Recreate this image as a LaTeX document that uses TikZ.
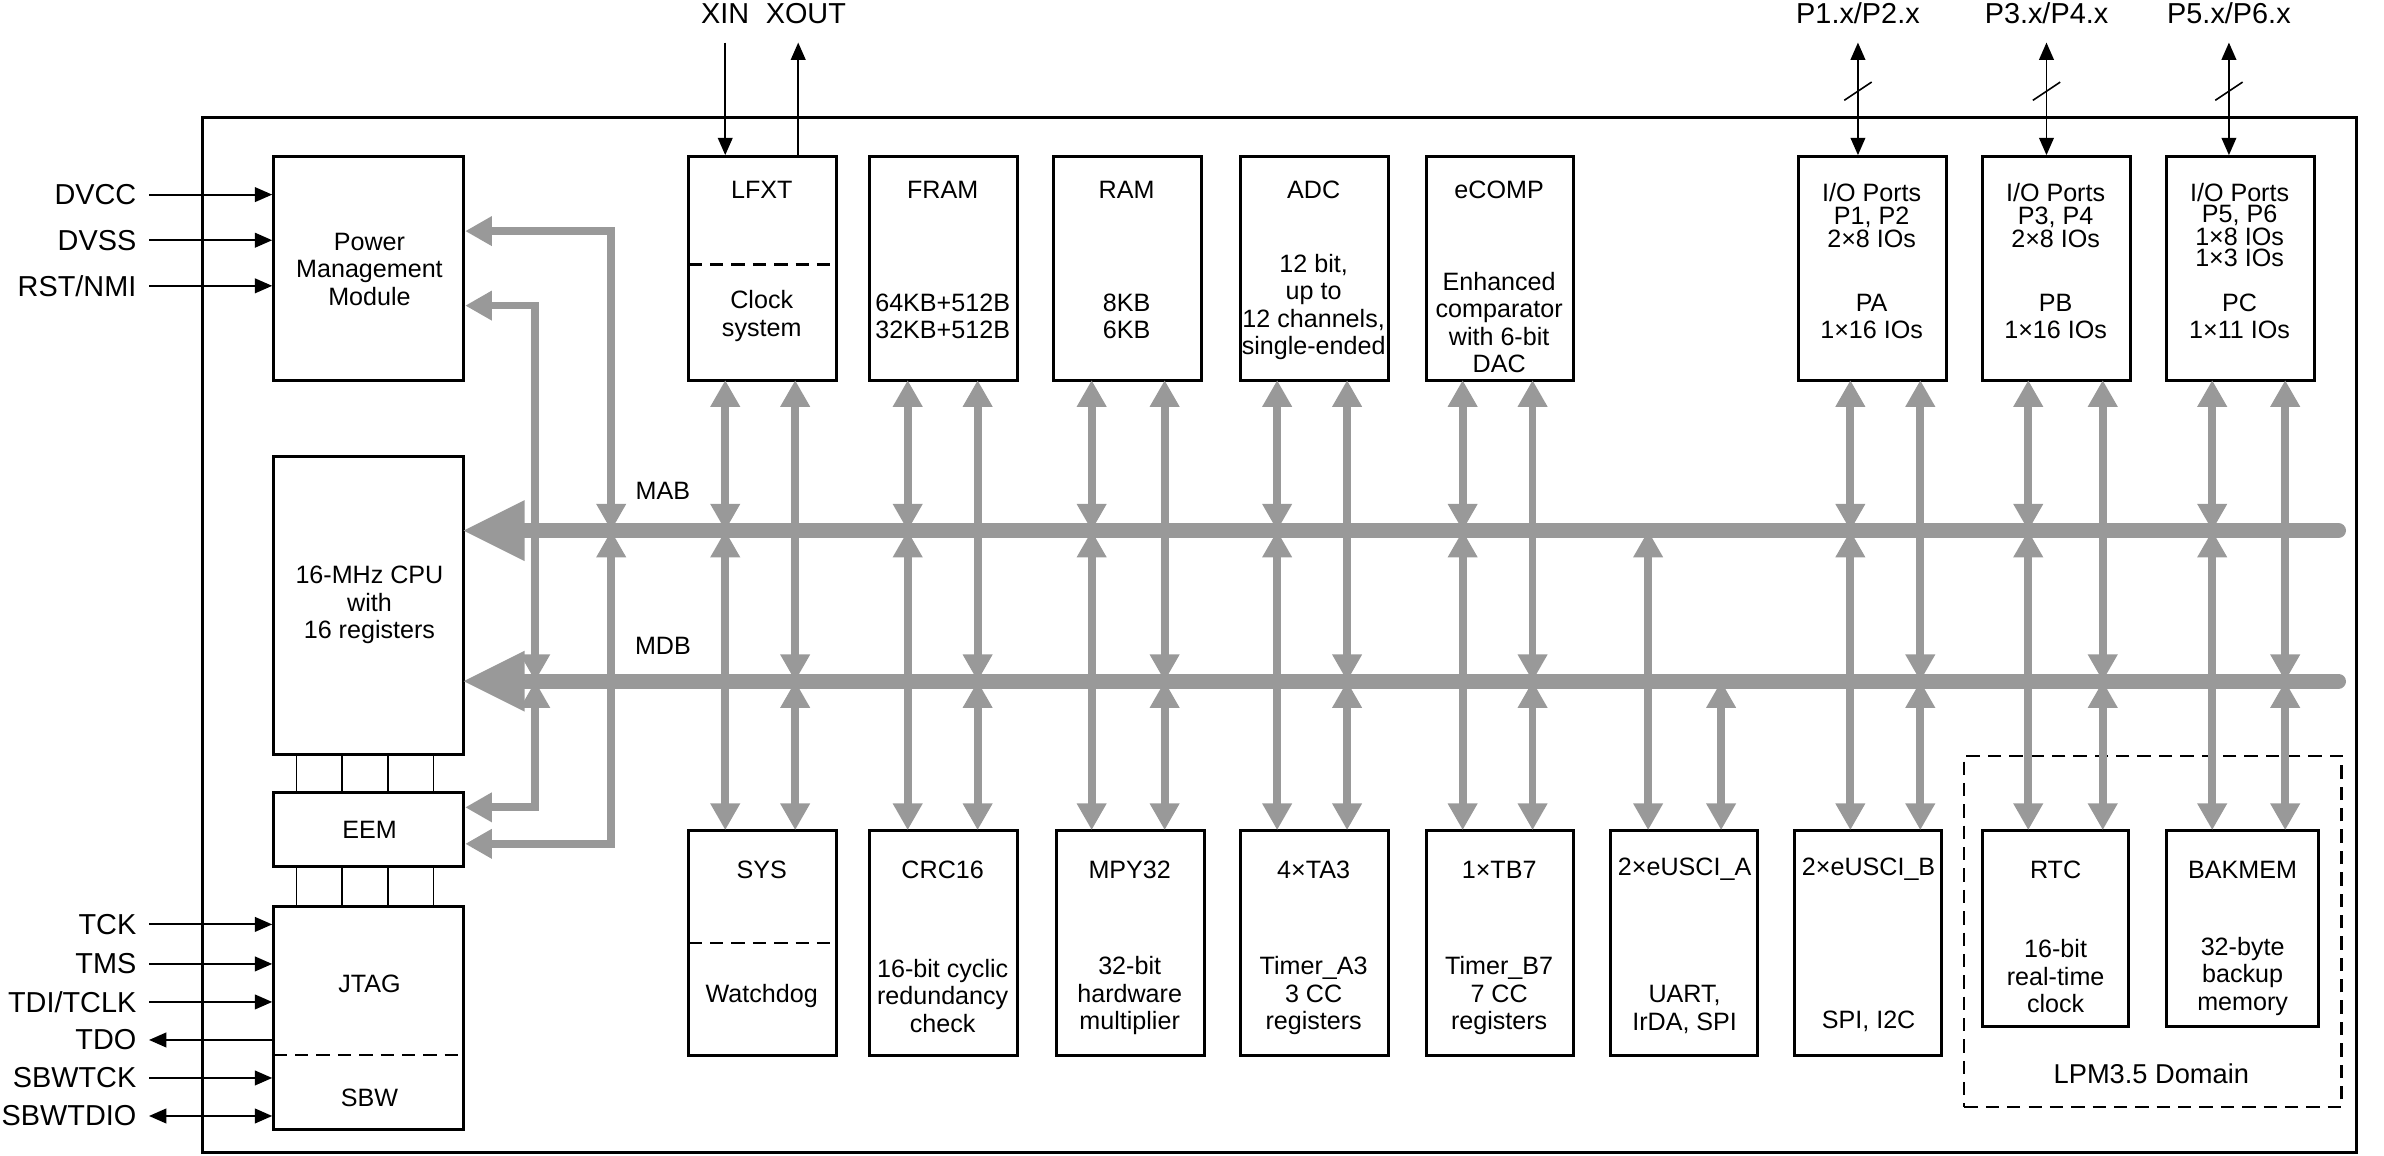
\documentclass[tikz,border=0pt]{standalone}
\usepackage{fontspec}
\setmainfont{Liberation Sans}
\usetikzlibrary{arrows.meta,fit}
\begin{document}
\begin{tikzpicture}[x=0.02cm,y=-0.02cm,
  box/.style={draw,line width=1.1pt,inner sep=0pt},
  txt/.style={font=\fontsize{9.4}{10.3}\selectfont,align=center,inner sep=0pt},
  ext/.style={font=\fontsize{10.8}{12}\selectfont,inner sep=0pt},
  pin/.style={line width=0.7pt,-{Triangle[width=5.5pt,length=6.5pt]}},
  pinb/.style={line width=0.7pt,{Triangle[width=5.5pt,length=6.5pt]}-{Triangle[width=5.5pt,length=6.5pt]}},
  va/.style={draw=black!40,line width=2.9pt,{Triangle[width=10.5pt,length=10pt]}-{Triangle[width=10.5pt,length=10pt]}},
  dsh/.style={line width=0.8pt,dash pattern=on 5pt off 3pt}]
\useasboundingbox (0,0) rectangle (1568,760);
\node[box,fit={(133,77)(1550,758)}] (outer) {};
% left boxes
\node[box,fit={(180,103)(305,250)}] (pmm) {};
\node[txt] (pmmt) at (243,177) {Power\\Management\\Module};
\node[box,fit={(180,300)(305,496)}] (cpu) {};
\node[txt] (cput) at (243,398) {16-MHz CPU\\with\\16 registers};
\node[box,fit={(180,521)(305,570)}] (eem) {};
\node[txt] (eemt) at (243,546) {EEM};
\node[box,fit={(180,596)(305,743)}] (jtag) {};
\node[txt] (jtagt) at (243,647) {JTAG};
\node[txt] (sbwt) at (243,722) {SBW};
\draw[dsh] (180,694) -- (305,694);
\foreach \x in {195,225,255,285}{\draw[line width=0.6pt] (\x,496)--(\x,521) (\x,570)--(\x,596);}
% top boxes
\foreach \n/\a in {lfxt/453,fram/572,ram/693,adc/816,ecomp/938}{
  \node[box,fit={(\a,103)(\a+97,250)}] (\n) {};}
\foreach \n/\a in {pa/1183,pb/1304,pc/1425}{
  \node[box,fit={(\a,103)(\a+97,250)}] (\n) {};}
\draw[dsh] (453,174) -- (550,174);
\node[txt] at (501,125) {LFXT};
\node[txt] at (501,208) {Clock\\system};
\node[txt] at (620,125) {FRAM};
\node[txt] at (620,208) {64KB+512B\\32KB+512B};
\node[txt] at (741,125) {RAM};
\node[txt] at (741,208) {8KB\\6KB};
\node[txt] at (864,125) {ADC};
\node[txt] at (864,202) {12 bit,\\up to\\12 channels,\\single-ended};
\node[txt] at (986,125) {eCOMP};
\node[txt] at (986,212) {Enhanced\\comparator\\with 6-bit\\DAC};
\node[txt,font=\fontsize{9.4}{8.6}\selectfont] at (1231,142) {I/O Ports\\P1, P2\\2×8 IOs};
\node[txt] at (1231,208) {PA\\1×16 IOs};
\node[txt,font=\fontsize{9.4}{8.6}\selectfont] at (1352,142) {I/O Ports\\P3, P4\\2×8 IOs};
\node[txt] at (1352,208) {PB\\1×16 IOs};
\node[txt,font=\fontsize{9.4}{7.6}\selectfont] at (1473,148) {I/O Ports\\P5, P6\\1×8 IOs\\1×3 IOs};
\node[txt] at (1473,208) {PC\\1×11 IOs};
% bottom boxes
\foreach \n/\a in {sys/453,crc/572,mpy/695,ta/816,tb/938,ua/1059,ub/1180}{
  \node[box,fit={(\a,546)(\a+97,694)}] (\n) {};}
\node[box,fit={(1304,546)(1400,675)}] (rtc) {};
\node[box,fit={(1425,546)(1525,675)}] (bak) {};
\draw[dsh] (453,620) -- (550,620);
\node[txt] at (501,572) {SYS};
\node[txt] at (501,655) {Watchdog};
\node[txt] at (620,572) {CRC16};
\node[txt] at (620,655) {16-bit cyclic\\redundancy\\check};
\node[txt] at (743,572) {MPY32};
\node[txt] at (743,655) {32-bit\\hardware\\multiplier};
\node[txt] at (864,572) {4×TA3};
\node[txt] at (864,655) {Timer\_A3\\3 CC\\registers};
\node[txt] at (986,572) {1×TB7};
\node[txt] at (986,655) {Timer\_B7\\7 CC\\registers};
\node[txt] at (1108,572) {2×eUSCI\_A};
\node[txt] at (1108,664) {UART,\\IrDA, SPI};
\node[txt] at (1229,572) {2×eUSCI\_B};
\node[txt] at (1229,672) {SPI, I2C};
\node[txt] at (1352,572) {RTC};
\node[txt] at (1352,642) {16-bit\\real-time\\clock};
\node[txt] at (1475,572) {BAKMEM};
\node[txt] at (1475,642) {32-byte\\backup\\memory};
\node[draw,dsh,fit={(1292,497)(1540,728)},inner sep=0pt] (lpm) {};
\node[txt,font=\fontsize{10.2}{12}\selectfont] at (1415,706) {LPM3.5 Domain};
% buses
\coordinate (mabE) at (1538,349); \coordinate (mdbE) at (1538,448);
\draw[draw=black!40,line width=0.2cm,line cap=round] (mabE) -- (340,349);
\draw[draw=black!40,line width=0.2cm,line cap=round] (mdbE) -- (340,448);
\fill[black!40] (305,349) -- (345,329) -- (345,369) -- cycle;
\fill[black!40] (305,448) -- (345,428) -- (345,468) -- cycle;
\node[txt] at (436,323) {MAB};
\node[txt] at (436,425) {MDB};
% vertical arrows
\foreach \l/\r in {477/523,597/643,718/766,840/886,962/1008,1217/1263,1334/1383,1455/1503}{
  \draw[va] (\l,250) -- (\l,349);
  \draw[va] (\r,250) -- (\r,448);}
\foreach \l/\r/\b in {477/523/546,597/643/546,718/766/546,840/886/546,962/1008/546,1084/1132/546,1217/1263/546,1334/1383/546,1455/1503/546}{
  \draw[va] (\l,349) -- (\l,\b);
  \draw[va] (\r,448) -- (\r,\b);}
% left side bus links
\draw[va] (402,349) -- (402,152) -- (pmm.east |- 0,152);
\draw[va] (402,349) -- (402,555) -- (eem.east |- 0,555);
\draw[va] (352,448) -- (352,201) -- (pmm.east |- 0,201);
\draw[va] (352,448) -- (352,531) -- (eem.east |- 0,531);
% pins left
\foreach \t/\y in {DVCC/128,DVSS/158,RST\slash NMI/188}{
  \node[ext,anchor=east] (p\y) at (90,\y) {\t};
  \draw[pin] (98,\y) -- (pmm.west |- 0,\y);}
\foreach \t/\y in {TCK/608,TMS/634,TDI\slash TCLK/659,SBWTCK/709}{
  \node[ext,anchor=east] (p\y) at (90,\y) {\t};
  \draw[pin] (98,\y) -- (jtag.west |- 0,\y);}
\node[ext,anchor=east] (p684) at (90,684) {TDO};
\draw[pin] (jtag.west |- 0,684) -- (98,684);
\node[ext,anchor=east] (p734) at (90,734) {SBWTDIO};
\draw[pinb] (98,734) -- (jtag.west |- 0,734);
% top pins
\node[ext] (xin) at (477,9) {XIN};
\node[ext] (xout) at (530,9) {XOUT};
\draw[pin] (477,28) -- (lfxt.north -| 477,0);
\draw[pin] (lfxt.north -| 525,0) -- (525,28);
\foreach \x/\t/\n in {1222/P1.x\slash P2.x/pa,1346/P3.x\slash P4.x/pb,1466/P5.x\slash P6.x/pc}{
  \node[ext] at (\x,9) {\t};
  \draw[pinb] (\x,28) -- (\n.north -| \x,0);
  \draw[line width=0.6pt] (\x-9,66) -- (\x+9,54);}
\end{tikzpicture}
\end{document}
